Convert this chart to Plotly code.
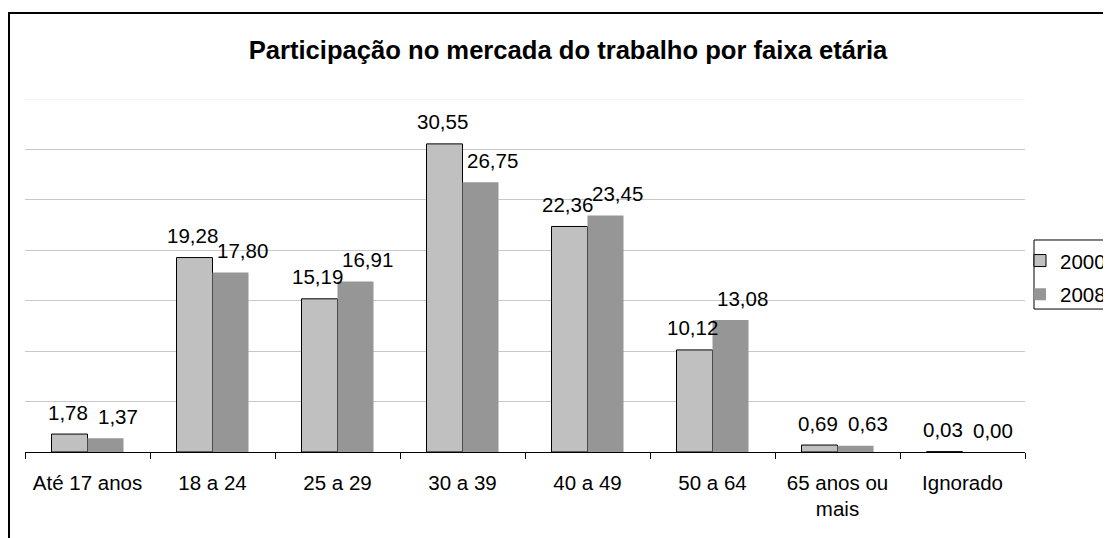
import plotly.graph_objects as go

categories = ["Até 17 anos", "18 a 24", "25 a 29", "30 a 39", "40 a 49",
              "50 a 64", "65 anos ou<br>mais", "Ignorado"]
values_2000 = [1.78, 19.28, 15.19, 30.55, 22.36, 10.12, 0.69, 0.03]
values_2008 = [1.37, 17.80, 16.91, 26.75, 23.45, 13.08, 0.63, 0.00]

font_family = "Liberation Sans, Arial, sans-serif"
fs = 20.5

fig = go.Figure()

# 2000 - light gray with dark outline
fig.add_trace(
    go.Bar(
        x=categories,
        y=values_2000,
        name="2000",
        legendgroup="a",
        marker=dict(color="#C0C0C0", line=dict(color="#000000", width=1)),
        hovertemplate="%{x}: %{y:.2f}<extra>2000</extra>"
    )
)

# 2008 - darker gray, no outline
fig.add_trace(
    go.Bar(
        x=categories,
        y=values_2008,
        name="2008",
        legendgroup="b",
        marker=dict(color="#969696", line=dict(width=0)),
        hovertemplate="%{x}: %{y:.2f}<extra>2008</extra>"
    )
)

# Data labels (Excel style, sitting a little above each bar)
for cat, v00, v08 in zip(categories, values_2000, values_2008):
    for val, shift in ((v00, -20), (v08, 30)):
        fig.add_annotation(
            x=cat,
            y=val,
            xref="x",
            yref="y",
            text=f"{val:.2f}".replace(".", ","),
            showarrow=False,
            xshift=shift,
            yshift=22,
            yanchor="middle",
            font=dict(size=fs, color="#000000")
        )

# Light top gridline
fig.add_shape(
    type="line",
    xref="paper",
    yref="y",
    x0=0,
    x1=1,
    y0=35,
    y1=35,
    line=dict(color="#EBEBEB", width=1)
)

# Outer chart border (right / bottom edges fall outside the picture)
fig.add_shape(
    type="rect",
    xref="paper",
    yref="paper",
    x0=-0.016,
    x1=1.3,
    y0=-0.4,
    y1=1.2436,
    line=dict(color="#000000", width=2),
    layer="below"
)

# Legend frame
fig.add_shape(
    type="rect",
    xref="paper",
    yref="paper",
    x0=1.009,
    x1=1.3,
    y0=0.405,
    y1=0.6006,
    line=dict(color="#000000", width=1)
)

fig.update_layout(
    width=1140,
    height=530,
    font=dict(family=font_family, size=fs, color="#000000"),
    title=dict(
        text="<b>Participação no mercada do trabalho por faixa etária</b>",
        x=(560 / 1140),
        xanchor="center",
        y=1 - 42 / 530,
        yanchor="middle",
        font=dict(size=25.6, family=font_family)
    ),
    paper_bgcolor="#FFFFFF",
    plot_bgcolor="#FFFFFF",
    barmode="group",
    bargap=0.424,
    bargroupgap=0,
    margin=dict(l=17, r=123, t=91, b=86, autoexpand=False),
    showlegend=True,
    legend=dict(
        x=0.995,
        y=0.5985,
        xanchor="left",
        yanchor="top",
        bgcolor="rgba(0,0,0,0)",
        borderwidth=0,
        font=dict(size=fs),
        tracegroupgap=4,
        itemwidth=30
    ),
    xaxis=dict(
        type="category",
        showline=True,
        linecolor="#000000",
        linewidth=1,
        ticks="outside",
        tickson="boundaries",
        ticklen=6,
        tickcolor="#000000",
        tickfont=dict(size=fs),
        ticklabelstandoff=12,
        showgrid=False
    ),
    yaxis=dict(
        range=[0, 35],
        dtick=5,
        showticklabels=False,
        showgrid=True,
        gridcolor="#C8C8C8",
        gridwidth=1,
        zeroline=False,
        showline=False
    )
)

fig.write_html("out.html")
